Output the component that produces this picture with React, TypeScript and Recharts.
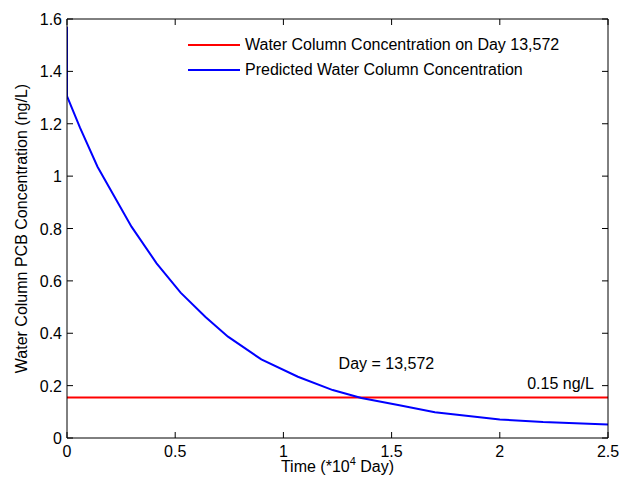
import React from 'react';
import { LineChart, Line, XAxis, YAxis, Legend, ReferenceDot } from 'recharts';

const FONT = '"Liberation Sans", Arial, sans-serif';

const xTicks = [0, 0.5, 1, 1.5, 2, 2.5];
const yTicks = [0, 0.2, 0.4, 0.6, 0.8, 1, 1.2, 1.4, 1.6];

const predictedX = [0, 0, 0.06, 0.141, 0.298, 0.414, 0.525, 0.64, 0.744, 0.898, 1.067, 1.228, 1.36, 1.536, 1.7, 2.0, 2.2, 2.5];
const predictedY = [1.57, 1.305, 1.185, 1.036, 0.807, 0.667, 0.555, 0.462, 0.387, 0.3, 0.234, 0.183, 0.153, 0.125, 0.098, 0.071, 0.061, 0.052];

const thresholdX = [0, 2.5];
const thresholdY = [0.155, 0.155];

const predicted = predictedX.map((x, i) => ({ x, y: predictedY[i] }));
const threshold = thresholdX.map((x, i) => ({ x, y: thresholdY[i] }));

const seriesNames = ['Water Column Concentration on Day 13,572', 'Predicted Water Column Concentration'];
const seriesColors = ['#ff0000', '#0000ff'];

const annotDay = { x: 1.476, y: 0.286, text: 'Day = 13,572' };
const annotConc = { x: 2.458, y: 0.21, text: '0.15 ng/L' };

const BottomTick = (props: any) => {
  const { x, y, payload } = props;
  return (
    <g>
      <line x1={x} x2={x} y1={y} y2={y - 6} stroke="#000" strokeWidth={1} />
      <text x={x} y={y + 19} textAnchor="middle" fontSize={16} fontFamily={FONT} fill="#000">
        {String(payload.value)}
      </text>
    </g>
  );
};
const TopTick = (props: any) => {
  const { x, y } = props;
  return <line x1={x} x2={x} y1={y} y2={y + 6} stroke="#000" strokeWidth={1} />;
};
const LeftTick = (props: any) => {
  const { x, y, payload } = props;
  return (
    <g>
      <line x1={x} x2={x + 6} y1={y} y2={y} stroke="#000" strokeWidth={1} />
      <text x={x - 5} y={y + 6} textAnchor="end" fontSize={16} fontFamily={FONT} fill="#000">
        {String(payload.value)}
      </text>
    </g>
  );
};
const RightTick = (props: any) => {
  const { x, y } = props;
  return <line x1={x} x2={x - 6} y1={y} y2={y} stroke="#000" strokeWidth={1} />;
};

const LegendContent = () => (
  <div style={{ fontFamily: FONT, fontSize: 16, color: '#000' }}>
    {seriesNames.map((n, i) => (
      <div key={n} style={{ display: 'flex', alignItems: 'center', height: 25, whiteSpace: 'nowrap' }}>
        <svg width={52} height={4} style={{ marginRight: 5 }}>
          <line x1={0} x2={52} y1={2} y2={2} stroke={seriesColors[i]} strokeWidth={2} />
        </svg>
        <span>{n}</span>
      </div>
    ))}
  </div>
);

export default function App() {
  return (
    <div>
      <style>{`body { margin: 0; } #root { overflow: visible; }`}</style>
      <LineChart width={619} height={486} margin={{ top: 18, right: 10, bottom: 0, left: 0 }}>
        <XAxis
          dataKey="x"
          type="number"
          domain={[0, 2.5]}
          ticks={xTicks}
          allowDataOverflow
          height={48}
          tickSize={0}
          tickMargin={0}
          tickLine={false}
          axisLine={{ stroke: '#000', strokeWidth: 1 }}
          tick={BottomTick}
          interval={0}
          label={{
            content: (p: any) => {
              const vb = p.viewBox;
              return (
                <text x={vb.x + vb.width / 2} y={vb.y + 34} textAnchor="middle" fontSize={16} fontFamily={FONT} fill="#000">
                  <tspan>Time (*10</tspan>
                  <tspan dy={-7} fontSize={11}>4</tspan>
                  <tspan dy={7}> Day)</tspan>
                </text>
              );
            },
          }}
        />
        <XAxis
          xAxisId="top"
          orientation="top"
          dataKey="x"
          type="number"
          domain={[0, 2.5]}
          ticks={xTicks}
          allowDataOverflow
          height={1}
          tickSize={0}
          tickMargin={0}
          tickLine={false}
          axisLine={{ stroke: '#000', strokeWidth: 1 }}
          tick={TopTick}
          interval={0}
        />
        <YAxis
          type="number"
          domain={[0, 1.6]}
          ticks={yTicks}
          allowDataOverflow
          width={67}
          tickSize={0}
          tickMargin={0}
          tickLine={false}
          axisLine={{ stroke: '#000', strokeWidth: 1 }}
          tick={LeftTick}
          interval={0}
          label={{
            content: (p: any) => {
              const vb = p.viewBox;
              const cx = vb.x + 27;
              const cy = vb.y + vb.height / 2;
              return (
                <text x={cx} y={cy} transform={`rotate(-90, ${cx}, ${cy})`} textAnchor="middle" fontSize={16} fontFamily={FONT} fill="#000">
                  Water Column PCB Concentration (ng/L)
                </text>
              );
            },
          }}
        />
        <YAxis
          yAxisId="right"
          orientation="right"
          type="number"
          domain={[0, 1.6]}
          ticks={yTicks}
          allowDataOverflow
          width={1}
          tickSize={0}
          tickMargin={0}
          tickLine={false}
          axisLine={{ stroke: '#000', strokeWidth: 1 }}
          tick={RightTick}
          interval={0}
        />
        <Line
          xAxisId="top"
          yAxisId="right"
          data={threshold}
          dataKey="y"
          stroke="none"
          strokeWidth={0}
          dot={false}
          activeDot={false}
          legendType="none"
          isAnimationActive={false}
          type="linear"
        />
        <Line
          data={threshold}
          dataKey="y"
          name={seriesNames[0]}
          stroke={seriesColors[0]}
          strokeWidth={2}
          dot={false}
          isAnimationActive={false}
          type="linear"
        />
        <Line
          data={predicted}
          dataKey="y"
          name={seriesNames[1]}
          stroke={seriesColors[1]}
          strokeWidth={2}
          dot={false}
          isAnimationActive={false}
          type="linear"
        />
        <ReferenceDot
          x={annotDay.x}
          y={annotDay.y}
          r={0}
          fill="none"
          stroke="none"
          label={{ value: annotDay.text, position: 'center', fontSize: 16, fontFamily: FONT, fill: '#000' }}
        />
        <ReferenceDot
          x={annotConc.x}
          y={annotConc.y}
          r={0}
          fill="none"
          stroke="none"
          label={{ value: annotConc.text, position: 'left', fontSize: 16, fontFamily: FONT, fill: '#000' }}
        />
        <Legend
          layout="vertical"
          align="center"
          verticalAlign="middle"
          content={LegendContent}
          wrapperStyle={{ position: 'absolute', left: 188, top: 32, width: 'auto', height: 'auto' }}
        />
      </LineChart>
    </div>
  );
}
